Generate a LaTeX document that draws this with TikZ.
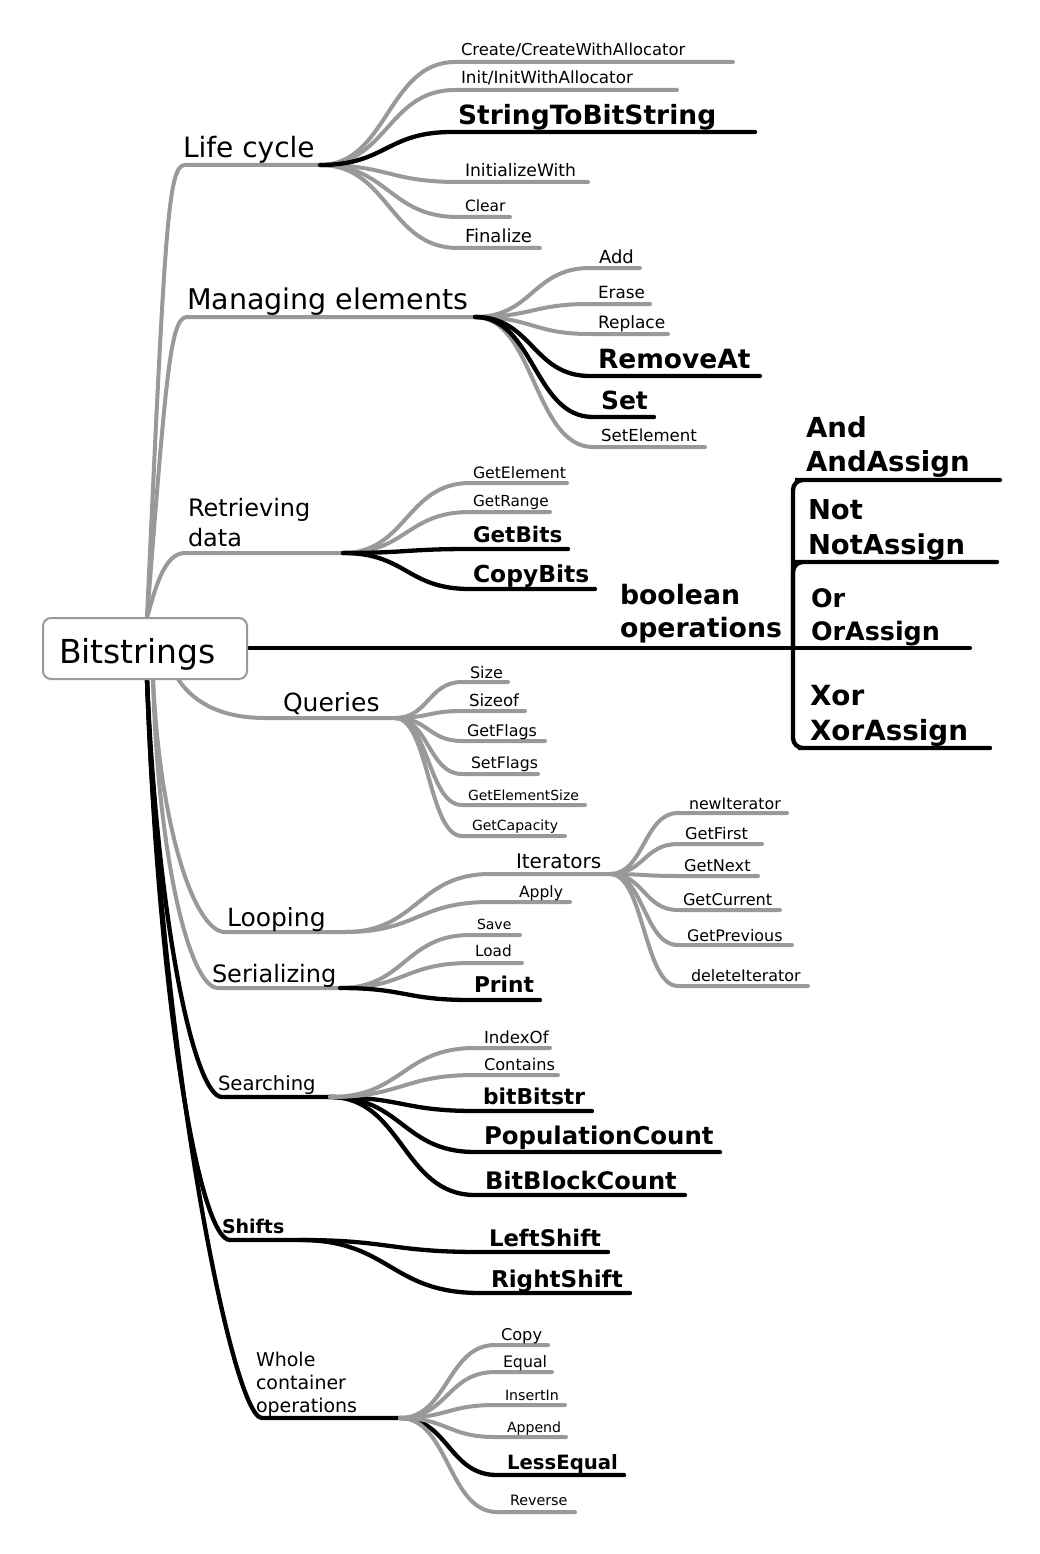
\documentclass[tikz,border=0pt]{standalone}
\usepackage{fontspec}
\setmainfont{DejaVu Sans}
\usetikzlibrary{calc}
\definecolor{branchgray}{RGB}{153,153,153}
\newcommand\fsz[1]{\fontsize{#1pt}{1.2\dimexpr#1pt\relax}\selectfont}
\tikzset{
  gr/.style={draw=branchgray, line width=4pt, line cap=round},
  bk/.style={draw=black, line width=4.3pt, line cap=round},
  lbl/.style={anchor=base west, inner sep=0pt, outer sep=0pt},
  rootbox/.style={draw=branchgray, line width=2pt, rounded corners=8pt, fill=white,
    minimum width=204pt, minimum height=61pt, inner sep=0pt},
  sc/.style={to path={let \p1=(\tikztostart), \p2=(\tikztotarget) in
    .. controls ({0.5*\x1+0.5*\x2},\y1) and ({0.5*\x1+0.5*\x2},\y2) .. (\tikztotarget)}},
}
% #1 parent, #2 style, #3 name, #4 line y, #5 x start, #6 x end, #7 text base, #8 font, #9 text
\newcommand\leaf[9]{%
  \coordinate (#3S) at (#5,#4);
  \coordinate (#3E) at (#6,#4);
  \draw[#2] (#1) to[sc] (#3S) -- (#3E);
  \node[lbl,font={#8}] (#3) at (#7) {#9};
}
\begin{document}
\begin{tikzpicture}[x=1pt,y=-1pt]
\useasboundingbox (0,0) rectangle (1039,1554);
\fill[white] (0,0) rectangle (1039,1554);

% root anchor points
\coordinate (rootT) at (147,618);
\coordinate (rootB) at (147,679);
\coordinate (rootG) at (153,679);
\coordinate (rootQ) at (178,679);
\coordinate (rootR) at (247,648);

% category lines
\coordinate (lcS) at (185,165);  \coordinate (lcE) at (320,165);
\coordinate (meS) at (187,317);  \coordinate (meE) at (475,317);
\coordinate (rdS) at (185,553);  \coordinate (rdE) at (343,553);
\coordinate (qS)  at (265,718);  \coordinate (qE)  at (395,718);
\coordinate (loS) at (225,932);  \coordinate (loE) at (345,932);
\coordinate (seS) at (218,988);  \coordinate (seE) at (340,988);
\coordinate (srS) at (222,1097); \coordinate (srE) at (330,1097);
\coordinate (shS) at (230,1240); \coordinate (shE) at (300,1240);
\coordinate (woS) at (262,1418); \coordinate (woE) at (400,1418);
\coordinate (boE) at (793,648);

\draw[gr] (rootT) .. controls (165,225) and (168,165) .. (lcS) -- (lcE);
\draw[gr] (rootT) .. controls (166,377) and (170,317) .. (meS) -- (meE);
\draw[gr] (rootT) .. controls (156,585) and (165,553) .. (rdS) -- (rdE);
\draw[gr] (rootQ) .. controls (195,705) and (225,718) .. (qS) -- (qE);
\draw[gr] (rootG) .. controls (160,830) and (195,932) .. (loS) -- (loE);
\draw[gr] (rootG) .. controls (158,860) and (190,988) .. (seS) -- (seE);
\draw[bk] (rootB) .. controls (158,930) and (195,1097) .. (srS) -- (srE);
\draw[bk] (rootB) .. controls (159,1010) and (200,1240) .. (shS) -- (shE);
\draw[bk] (rootB) .. controls (160,1050) and (232,1418) .. (woS) -- (woE);
\draw[bk] (rootR) -- (boE);

% category labels
\node[lbl,font=\fsz{28}] (lc) at (183,158) {Life cycle};
\node[lbl,font=\fsz{28.5}] (me) at (187,309) {Managing elements};
\node[lbl,font=\fsz{24}] (rd1) at (188,516) {Retrieving};
\node[lbl,font=\fsz{24}] (rd2) at (188,546) {data};
\node[lbl,font=\fsz{25}] (q) at (283,711) {Queries};
\node[lbl,font=\fsz{25}] (lo) at (227,926) {Looping};
\node[lbl,font=\fsz{24}] (se) at (212,982) {Serializing};
\node[lbl,font=\fsz{19.6}] (sr) at (218,1090) {Searching};
\node[lbl,font=\fsz{19}\bfseries] (sh) at (222,1233) {Shifts};
\node[lbl,font=\fsz{19}] (wo1) at (256,1366) {Whole};
\node[lbl,font=\fsz{19}] (wo2) at (256,1389) {container};
\node[lbl,font=\fsz{19}] (wo3) at (256,1412) {operations};
\node[lbl,font=\fsz{26.7}\bfseries] (bo1) at (620,604) {boolean};
\node[lbl,font=\fsz{26.7}\bfseries] (bo2) at (620,637) {operations};

% Life cycle
\leaf{lcE}{gr}{create}{62}{455}{733}{461,56}{\fsz{16.4}}{Create/CreateWithAllocator}
\leaf{lcE}{gr}{init}{90}{455}{677}{461,84}{\fsz{16.8}}{Init/InitWithAllocator}
\leaf{lcE}{gr}{initw}{182}{458}{588}{465,177}{\fsz{17.2}}{InitializeWith}
\leaf{lcE}{gr}{clear}{217}{458}{510}{465,212}{\fsz{15.5}}{Clear}
\leaf{lcE}{gr}{final}{248}{458}{540}{465,243}{\fsz{18}}{Finalize}
\leaf{lcE}{bk}{stob}{132}{452}{755}{458,125}{\fsz{26.5}\bfseries}{StringToBitString}

% Managing elements
\leaf{meE}{gr}{add}{268}{590}{640}{599,263}{\fsz{18}}{Add}
\leaf{meE}{gr}{erase}{304}{590}{650}{598,298}{\fsz{16.8}}{Erase}
\leaf{meE}{gr}{replace}{334}{590}{668}{598,328}{\fsz{17}}{Replace}
\leaf{meE}{gr}{setel}{447}{593}{705}{601,441}{\fsz{16.6}}{SetElement}
\leaf{meE}{bk}{removeat}{376}{590}{760}{598,368}{\fsz{26.5}\bfseries}{RemoveAt}
\leaf{meE}{bk}{setn}{417}{593}{654}{601,409}{\fsz{25}\bfseries}{Set}

% Retrieving data
\leaf{rdE}{gr}{getel}{483}{470}{567}{473,478}{\fsz{15.7}}{GetElement}
\leaf{rdE}{gr}{getrange}{512}{470}{550}{473,506}{\fsz{15.3}}{GetRange}
\leaf{rdE}{bk}{getbits}{549}{470}{568}{473,542}{\fsz{21.5}\bfseries}{GetBits}
\leaf{rdE}{bk}{copybits}{589}{470}{595}{473,582}{\fsz{23.4}\bfseries}{CopyBits}

% Queries
\leaf{qE}{gr}{size}{682}{462}{508}{470,678}{\fsz{16}}{Size}
\leaf{qE}{gr}{sizeof}{711}{462}{525}{469,706}{\fsz{16.6}}{Sizeof}
\leaf{qE}{gr}{getflags}{741}{462}{545}{467,736}{\fsz{15.9}}{GetFlags}
\leaf{qE}{gr}{setflags}{774}{462}{538}{471,768}{\fsz{15.7}}{SetFlags}
\leaf{qE}{gr}{getelsize}{805}{462}{585}{468,800}{\fsz{13.9}}{GetElementSize}
\leaf{qE}{gr}{getcap}{836}{462}{565}{472,830}{\fsz{14}}{GetCapacity}

% Looping
\leaf{loE}{gr}{iterators}{874}{490}{610}{516,868}{\fsz{20}}{Iterators}
\leaf{loE}{gr}{apply}{902}{490}{570}{519,897}{\fsz{15.6}}{Apply}

% Iterators
\leaf{iteratorsE}{gr}{newit}{813}{678}{787}{689,809}{\fsz{15.8}}{newIterator}
\leaf{iteratorsE}{gr}{getfirst}{844}{678}{762}{685,839}{\fsz{16.2}}{GetFirst}
\leaf{iteratorsE}{gr}{getnext}{876}{678}{758}{684,871}{\fsz{16.2}}{GetNext}
\leaf{iteratorsE}{gr}{getcur}{910}{678}{780}{683,905}{\fsz{16.1}}{GetCurrent}
\leaf{iteratorsE}{gr}{getprev}{945}{678}{792}{687,941}{\fsz{15.9}}{GetPrevious}
\leaf{iteratorsE}{gr}{delit}{986}{678}{808}{691,981}{\fsz{15.9}}{deleteIterator}

% Serializing
\leaf{seE}{gr}{save}{935}{470}{520}{477,929}{\fsz{14}}{Save}
\leaf{seE}{gr}{load}{963}{470}{522}{475,956}{\fsz{15.3}}{Load}
\leaf{seE}{bk}{print}{1000}{470}{540}{474,992}{\fsz{21.7}\bfseries}{Print}

% Searching
\leaf{srE}{bk}{bitbitstr}{1111}{475}{592}{483,1104}{\fsz{21.8}\bfseries}{bitBitstr}
\leaf{srE}{bk}{popcount}{1152}{475}{720}{484,1144}{\fsz{24.4}\bfseries}{PopulationCount}
\leaf{srE}{bk}{bbcount}{1195}{475}{685}{485,1189}{\fsz{24.1}\bfseries}{BitBlockCount}
\leaf{srE}{gr}{indexof}{1048}{475}{550}{484,1043}{\fsz{16.6}}{IndexOf}
\leaf{srE}{gr}{contains}{1075}{475}{558}{484,1070}{\fsz{16.2}}{Contains}

% Shifts
\leaf{shE}{bk}{lshift}{1252}{480}{608}{489,1246}{\fsz{22.8}\bfseries}{LeftShift}
\leaf{shE}{bk}{rshift}{1293}{480}{630}{491,1287}{\fsz{23.1}\bfseries}{RightShift}

% Whole container operations
\leaf{woE}{bk}{lessequal}{1475}{497}{624}{507,1469}{\fsz{19.7}\bfseries}{LessEqual}
\leaf{woE}{gr}{copy}{1345}{495}{548}{501,1340}{\fsz{16.2}}{Copy}
\leaf{woE}{gr}{equal}{1372}{495}{552}{503,1367}{\fsz{15.8}}{Equal}
\leaf{woE}{gr}{insertin}{1405}{495}{565}{505,1400}{\fsz{14.2}}{InsertIn}
\leaf{woE}{gr}{append}{1437}{495}{566}{507,1432}{\fsz{14.1}}{Append}
\leaf{woE}{gr}{reverse}{1512}{497}{575}{510,1505}{\fsz{14.3}}{Reverse}

% boolean operations
\coordinate (andS) at (805,480); \coordinate (andE) at (1000,480);
\coordinate (notS) at (805,562); \coordinate (notE) at (997,562);
\coordinate (orE) at (970,648);
\coordinate (xorS) at (808,748); \coordinate (xorE) at (990,748);
\draw[bk, rounded corners=10pt] (boE) |- (andS) -- (andE);
\draw[bk, rounded corners=10pt] (boE) |- (notS) -- (notE);
\draw[bk] (boE) -- (orE);
\draw[bk, rounded corners=10pt] (boE) |- (xorS) -- (xorE);
\node[lbl,font=\fsz{27.6}\bfseries] (and1) at (806,437) {And};
\node[lbl,font=\fsz{27.6}\bfseries] (and2) at (806,471) {AndAssign};
\node[lbl,font=\fsz{27.4}\bfseries] (not1) at (808,519) {Not};
\node[lbl,font=\fsz{27.4}\bfseries] (not2) at (808,554) {NotAssign};
\node[lbl,font=\fsz{25.4}\bfseries] (or1) at (811,607) {Or};
\node[lbl,font=\fsz{25.4}\bfseries] (or2) at (811,640) {OrAssign};
\node[lbl,font=\fsz{27.8}\bfseries] (xor1) at (810,705) {Xor};
\node[lbl,font=\fsz{27.8}\bfseries] (xor2) at (810,740) {XorAssign};

% root
\node[rootbox] (root) at (145,648.5) {};
\node[lbl,font=\fsz{33}] (roottxt) at (59,663) {Bitstrings};
\end{tikzpicture}
\end{document}
